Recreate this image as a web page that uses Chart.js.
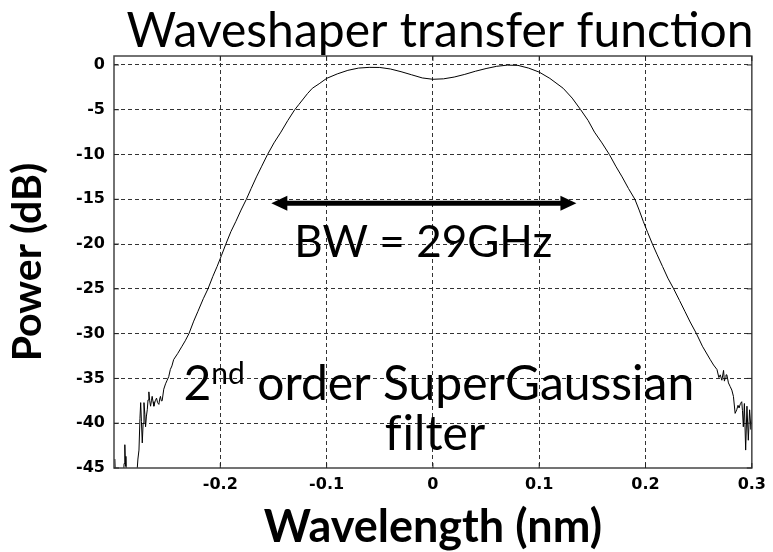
<!DOCTYPE html>
<html>
<head>
<meta charset="utf-8">
<script src="https://cdn.jsdelivr.net/npm/chart.js@4.4.0/dist/chart.umd.min.js"></script>
<style>
    html, body { margin: 0; padding: 0; background: #fff; }
    #wrap { width: 773px; height: 552px; }
</style>
</head>
<body>
<div id="wrap"><canvas id="myChart" width="773" height="552"></canvas></div>
<script>

/********** DATA **********/

// wavelength offset (nm)
const wavelength = [
    -0.2992, -0.2985, -0.2915, -0.2905, -0.2898, -0.2892, -0.2888, -0.2882, -0.2790, -0.2775,
    -0.2765, -0.2756, -0.2749, -0.2742, -0.2734, -0.2726, -0.2718, -0.2710, -0.2703, -0.2695,
    -0.2687, -0.2680, -0.2672, -0.2664, -0.2656, -0.2648, -0.2641, -0.2633, -0.2625, -0.2612,
    -0.2600, -0.2590, -0.2578, -0.2570, -0.2563, -0.2555, -0.2547, -0.2532, -0.2515, -0.2500,
    -0.2485, -0.2470, -0.2455, -0.2439, -0.2400, -0.2360, -0.2330, -0.2295, -0.2250, -0.2210,
    -0.2160, -0.2116, -0.2070, -0.2030, -0.1990, -0.1948, -0.1900, -0.1855, -0.1805, -0.1755,
    -0.1710, -0.1660, -0.1610, -0.1556, -0.1495, -0.1430, -0.1365, -0.1300, -0.1260, -0.1220,
    -0.1180, -0.1134, -0.1070, -0.1000, -0.0900, -0.0800, -0.0700, -0.0600, -0.0500, -0.0400,
    -0.0300, -0.0200, -0.0100, 0.0000, 0.0100, 0.0200, 0.0300, 0.0400, 0.0500, 0.0600,
    0.0700, 0.0800, 0.0900, 0.1000, 0.1100, 0.1225, 0.1310, 0.1390, 0.1460, 0.1520,
    0.1590, 0.1660, 0.1720, 0.1780, 0.1840, 0.1900, 0.1940, 0.1980, 0.2020, 0.2065,
    0.2110, 0.2160, 0.2210, 0.2265, 0.2320, 0.2370, 0.2420, 0.2479, 0.2535, 0.2609,
    0.2640, 0.2672, 0.2690, 0.2703, 0.2718, 0.2734, 0.2742, 0.2749, 0.2757, 0.2765,
    0.2780, 0.2796, 0.2812, 0.2827, 0.2843, 0.2858, 0.2870, 0.2880, 0.2893, 0.2905,
    0.2912, 0.2920, 0.2930, 0.2942, 0.2954, 0.2967, 0.2979, 0.2992, 0.3000
];

// power (dB) at each wavelength
const power = [
    -44.0, -46.5, -46.5, -44.5, -42.4, -44.8, -43.7, -46.5, -46.5, -44.0,
    -43.0, -39.5, -37.7, -39.8, -42.2, -40.0, -37.7, -39.0, -40.4, -39.2,
    -38.5, -37.4, -36.5, -37.5, -38.1, -37.5, -37.0, -37.6, -38.1, -37.5,
    -37.2, -37.7, -37.9, -37.3, -37.0, -37.5, -37.5, -36.2, -35.6, -35.2,
    -34.8, -34.0, -33.6, -32.9, -32.2, -31.4, -30.8, -30.0, -28.6, -27.5,
    -26.1, -25.0, -23.6, -22.5, -21.3, -20.0, -18.6, -17.5, -16.2, -15.0,
    -13.8, -12.5, -11.3, -10.0, -8.7, -7.5, -6.2, -5.0, -4.4, -3.8,
    -3.2, -2.6, -2.1, -1.5, -1.0, -0.6, -0.35, -0.27, -0.28, -0.45,
    -0.75, -1.1, -1.45, -1.6, -1.55, -1.35, -1.05, -0.7, -0.4, -0.15,
    -0.02, -0.05, -0.35, -0.8, -1.5, -2.6, -3.7, -5.0, -6.2, -7.5,
    -8.7, -10.0, -11.3, -12.5, -13.8, -15.0, -16.2, -17.5, -18.7, -20.0,
    -21.2, -22.5, -23.8, -25.0, -26.3, -27.5, -28.7, -30.0, -31.4, -32.9,
    -33.5, -34.0, -34.9, -34.6, -35.2, -34.1, -35.3, -35.0, -34.6, -34.6,
    -35.5, -35.9, -36.3, -37.0, -38.9, -38.5, -38.0, -38.3, -37.8, -37.6,
    -38.6, -40.4, -37.8, -43.0, -38.1, -41.9, -38.5, -40.7, -39.6
];

const xTicks = [-0.2, -0.1, 0, 0.1, 0.2, 0.3];
const yTicks = [0, -5, -10, -15, -20, -25, -30, -35, -40, -45];


/********** ANNOTATIONS + FRAME **********/

const overlay = {
    id: 'overlay',
    afterDraw(chart) {
        const { ctx, chartArea: a, scales: { x, y } } = chart;
        ctx.save();

        // solid frame round the plot, matlab style
        ctx.strokeStyle = '#444';
        ctx.lineWidth = 1.5;
        ctx.strokeRect(a.left, a.top, a.right - a.left, a.bottom - a.top);

        // inward tick marks
        ctx.strokeStyle = '#222';
        ctx.lineWidth = 1;
        ctx.beginPath();
        xTicks.forEach(v => {
            const px = x.getPixelForValue(v);
            ctx.moveTo(px, a.top); ctx.lineTo(px, a.top + 5);
            ctx.moveTo(px, a.bottom); ctx.lineTo(px, a.bottom - 5);
        });
        yTicks.forEach(v => {
            const py = y.getPixelForValue(v);
            ctx.moveTo(a.left, py); ctx.lineTo(a.left + 5, py);
            ctx.moveTo(a.right, py); ctx.lineTo(a.right - 5, py);
        });
        ctx.stroke();

        // title
        ctx.fillStyle = '#000';
        ctx.font = '48px Lato';
        ctx.textAlign = 'center';
        ctx.textBaseline = 'alphabetic';
        ctx.fillText('Waveshaper transfer function', 440, 47);

        // bandwidth arrow
        const ay = y.getPixelForValue(-15.43);
        const ax1 = x.getPixelForValue(-0.152);
        const ax2 = x.getPixelForValue(0.135);
        ctx.lineWidth = 5;
        ctx.strokeStyle = '#000';
        ctx.beginPath();
        ctx.moveTo(ax1 + 10, ay);
        ctx.lineTo(ax2 - 10, ay);
        ctx.stroke();
        ctx.beginPath();
        ctx.moveTo(ax1, ay); ctx.lineTo(ax1 + 16, ay - 7.5); ctx.lineTo(ax1 + 16, ay + 7.5);
        ctx.closePath();
        ctx.moveTo(ax2, ay); ctx.lineTo(ax2 - 16, ay - 7.5); ctx.lineTo(ax2 - 16, ay + 7.5);
        ctx.closePath();
        ctx.fill();

        // BW label
        ctx.font = '44px Lato';
        ctx.textAlign = 'center';
        ctx.fillText('BW = 29GHz', x.getPixelForValue(-0.009), y.getPixelForValue(-21.4));

        // 2nd order SuperGaussian filter
        ctx.textAlign = 'left';
        let tx = x.getPixelForValue(-0.2346);
        const ty = y.getPixelForValue(-37.4);
        ctx.font = '48px Lato';
        ctx.fillText('2', tx, ty);
        tx += ctx.measureText('2').width;
        ctx.font = '30px Lato';
        ctx.fillText('nd', tx, ty - 16);
        tx += ctx.measureText('nd').width;
        ctx.font = '48px Lato';
        ctx.fillText(' order SuperGaussian', tx, ty);

        // "filter" drawn in two pieces so the font does not merge f and i
        const fy = y.getPixelForValue(-43.0);
        const fw = ctx.measureText('f').width;
        const rest = ctx.measureText('ilter').width + 1;
        let fx = x.getPixelForValue(0.002) - (fw + rest) / 2;
        ctx.fillText('f', fx, fy);
        ctx.fillText('ilter', fx + fw + 1, fy);

        ctx.restore();
    }
};


/********** CHART **********/

const points = wavelength.map((w, i) => ({ x: w, y: power[i] }));
const gridColor = '#333';
const tickFont = { family: 'DejaVu Sans', size: 16, weight: 'bold' };

const ctx = document.getElementById('myChart').getContext('2d');
const myChart = new Chart(ctx, {
    type: 'line',
    data: {
        datasets: [{
            data: points,
            borderColor: '#000',
            borderWidth: 1,
            pointRadius: 0,
            tension: 0,
            clip: 0,
        }]
    },
    options: {
        responsive: false,
        animation: false,
        layout: { padding: { top: 56, right: 15.4, left: 0, bottom: 0 } },
        plugins: {
            legend: { display: false },
            tooltip: { enabled: false },
        },
        scales: {
            x: {
                type: 'linear',
                position: 'bottom',
                min: -0.3,
                max: 0.3,
                afterBuildTicks: s => { s.ticks = xTicks.map(v => ({ value: v })); },
                afterFit: s => { s.height = 84; },
                ticks: {
                    color: '#000',
                    padding: 7,
                    maxRotation: 0,
                    font: tickFont,
                    callback: v => String(v),
                },
                grid: {
                    drawTicks: false,
                    color: c => (c.tick && c.tick.value === 0.3) ? 'rgba(0,0,0,0)' : gridColor,
                },
                border: { display: false, dash: [4, 3] },
                title: {
                    display: true,
                    text: 'Wavelength (nm)',
                    color: '#000',
                    font: { family: 'Lato', size: 45, weight: 'bold', lineHeight: 1.1 },
                    padding: { top: 0, bottom: 0 },
                },
            },
            y: {
                min: -45,
                max: 1,
                afterBuildTicks: s => { s.ticks = yTicks.map(v => ({ value: v })); },
                afterFit: s => { s.width = 114; },
                ticks: {
                    color: '#000',
                    padding: 9,
                    font: tickFont,
                    callback: v => String(v),
                },
                grid: {
                    drawTicks: false,
                    color: c => (c.tick && c.tick.value === -45) ? 'rgba(0,0,0,0)' : gridColor,
                },
                border: { display: false, dash: [4, 3] },
                title: {
                    display: true,
                    text: 'Power (dB)',
                    color: '#000',
                    font: { family: 'Lato', size: 41, weight: 'bold', lineHeight: 1.2 },
                    padding: { top: 3, bottom: 0 },
                },
            }
        }
    },
    plugins: [overlay]
});
</script>
</body>
</html>
